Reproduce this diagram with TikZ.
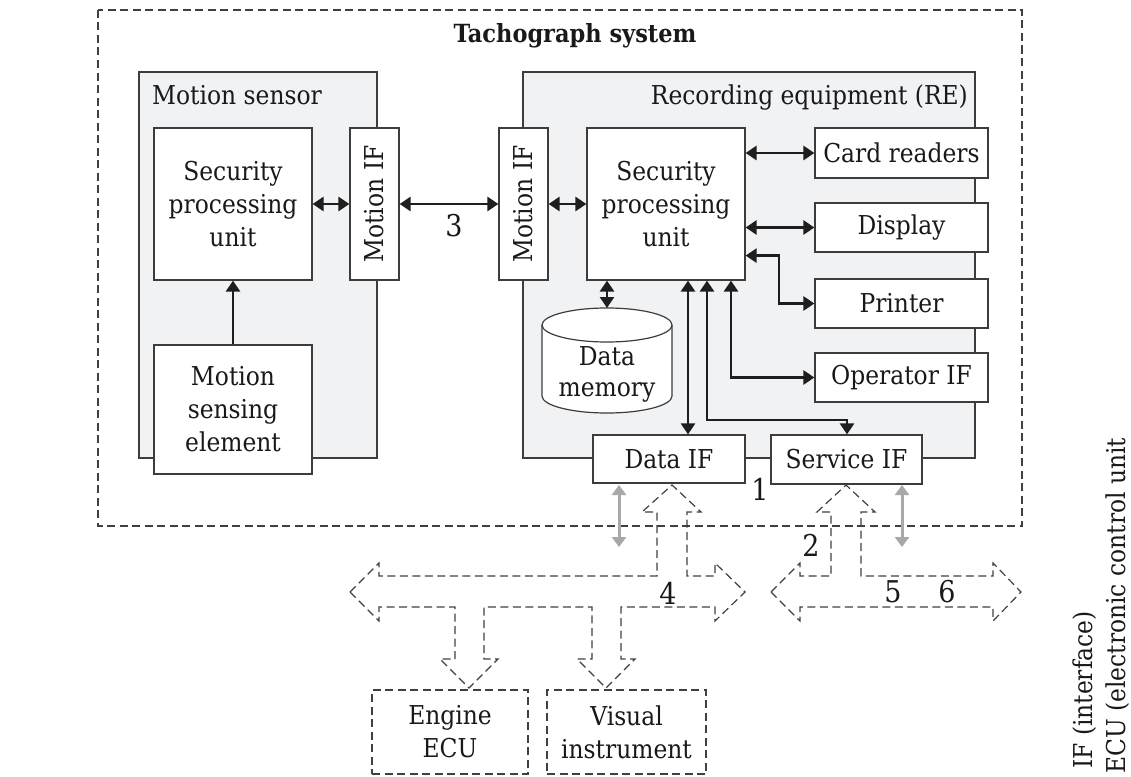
\documentclass[tikz,border=0pt]{standalone}
\usepackage{fontspec}
\setmainfont{DejaVu Serif Condensed}
\usetikzlibrary{arrows.meta,calc}
\definecolor{boxline}{HTML}{3C3C3C}
\definecolor{panel}{HTML}{F1F2F4}
\definecolor{arr}{HTML}{1E1E1E}
\definecolor{garr}{HTML}{A8A8A8}
\definecolor{dashline}{HTML}{404040}
\begin{document}
\begin{tikzpicture}[x=1pt,y=-1pt,
  every node/.style={font=\fontsize{26}{33}\selectfont, text=black!90},
  box/.style={draw=boxline, line width=1.2pt, fill=white, align=center, inner sep=0pt},
  panelbox/.style={draw=boxline, line width=1.2pt, fill=panel},
  dbox/.style={draw=dashline, line width=1.2pt, dash pattern=on 8pt off 4.5pt, align=center, inner sep=0pt},
  dline/.style={draw=dashline, line width=1.2pt, dash pattern=on 8pt off 4.5pt, line join=miter},
  conn/.style={draw=arr, line width=2.6pt, {Triangle[length=11pt,width=14pt]}-{Triangle[length=11pt,width=14pt]}},
  conn1/.style={draw=arr, line width=2.6pt, -{Triangle[length=11pt,width=14pt]}},
  gconn/.style={draw=garr, line width=3pt, {Triangle[length=10pt,width=14pt]}-{Triangle[length=10pt,width=14pt]}},
  lbl/.style={inner sep=0pt},
  num/.style={inner sep=0pt, font=\fontsize{30}{33}\selectfont}
]
\useasboundingbox (0,0) rectangle (1131,776);

% outer system boundary
\draw[dline] (98,10) rectangle (1022,526);
\node[lbl, anchor=base, font=\fontsize{25}{30}\selectfont\bfseries] (title) at (575,42) {Tachograph system};

% panels
\draw[panelbox] (139,72) rectangle (377,458);
\node[lbl, anchor=base west] (mslbl) at (152,104) {Motion sensor};
\draw[panelbox] (523,72) rectangle (975,458);
\node[lbl, anchor=base east] (relbl) at (968,104) {Recording equipment (RE)};

% motion sensor contents
\node[box, minimum width=158, minimum height=152] (spu1) at (233,204) {Security\\processing\\unit};
\node[box, minimum width=49, minimum height=152] (mif1) at (374.5,204) {};
\node[lbl, rotate=90] at (mif1.center) {Motion IF};
\node[box, minimum width=158, minimum height=129] (mse) at (233,409.5) {Motion\\sensing\\element};

% recording equipment contents
\node[box, minimum width=49, minimum height=152] (mif2) at (523.5,204) {};
\node[lbl, rotate=90] at (mif2.center) {Motion IF};
\node[box, minimum width=158, minimum height=152] (spu2) at (666,204) {Security\\processing\\unit};
\node[box, minimum width=173, minimum height=50] (card) at (901.5,153) {Card readers};
\node[box, minimum width=173, minimum height=49] (disp) at (901.5,227.5) {Display};
\node[box, minimum width=173, minimum height=49] (prn) at (901.5,303.5) {Printer};
\node[box, minimum width=173, minimum height=49] (opif) at (901.5,377.5) {Operator IF};
\node[box, minimum width=152, minimum height=48] (dataif) at (669,459) {Data IF};
\node[box, minimum width=151, minimum height=49] (servif) at (846.5,459.5) {Service IF};

% data memory cylinder
\coordinate (memtop) at (607,308);
\draw[draw=boxline, line width=1.2pt, fill=white]
  (542,325) arc[start angle=180, end angle=360, x radius=65, y radius=17]
  -- (672,396) arc[start angle=0, end angle=180, x radius=65, y radius=17] -- cycle;
\draw[draw=boxline, line width=1.2pt] (542,325) arc[start angle=180, end angle=0, x radius=65, y radius=17];
\node[lbl, align=center, font=\fontsize{26}{31}\selectfont] (mem) at (607,374) {Data\\memory};

% connectors
\draw[conn1] (mse.north) -- (spu1.south);
\draw[conn] (spu1.east) -- (mif1.west);
\draw[conn] (mif1.east) -- (mif2.west);
\node[num] (n3) at (454,226) {3};
\draw[conn] (mif2.east) -- (spu2.west);
\draw[conn] (spu2.east |- card.west) -- (card.west);
\draw[conn] (spu2.east |- disp.west) -- (disp.west);
\draw[conn] ([yshift=25]spu2.south east) -| (779,303.5) -- (prn.west);
\draw[conn] ([xshift=65]spu2.south) |- (opif.west);
\draw[conn] ([xshift=-59]spu2.south) -- (memtop);
\draw[conn] ([xshift=22]spu2.south) -- ([xshift=19]dataif.north);
\draw[conn] ([xshift=41]spu2.south) |- (847,420) -- ([xshift=0.5]servif.north);
\node[num] (n1) at (760,489) {1};

% grey external arrows
\coordinate (g1a) at (619,485); \coordinate (g1b) at (619,547);
\coordinate (g2a) at (902,485); \coordinate (g2b) at (902,547);
\draw[gconn] (g1a) -- (g1b);
\draw[gconn] (g2a) -- (g2b);

% bus 4 with hollow arrows
\draw[dline] (350,592) -- (379,563) -- (379,576) -- (657,576) -- (657,512) -- (642,512) -- (672,485)
  -- (701,512) -- (687,512) -- (687,576) -- (715,576) -- (715,563) -- (745,592) -- (715,621)
  -- (715,607) -- (621,607) -- (621,659) -- (635,659) -- (606,688) -- (577,659) -- (592,659)
  -- (592,607) -- (484,607) -- (484,659) -- (498,659) -- (469,688) -- (440,659) -- (455,659)
  -- (455,607) -- (379,607) -- (379,621) -- cycle;
\node[num] (n4) at (668,593) {4};

% bus 5/6 with hollow arrow
\draw[dline] (771,592) -- (800,563) -- (800,576) -- (831,576) -- (831,512) -- (817,512) -- (846,485)
  -- (875,512) -- (861,512) -- (861,576) -- (993,576) -- (993,563) -- (1021,592) -- (993,621)
  -- (993,607) -- (800,607) -- (800,621) -- cycle;
\node[num] (n2) at (811,545) {2};
\node[num] (n5) at (893,592) {5};
\node[num] (n6) at (947,592) {6};

% external units
\node[dbox, minimum width=156, minimum height=84] (engine) at (450,732) {Engine\\ECU};
\node[dbox, minimum width=159, minimum height=84] (visual) at (626.5,732) {Visual\\instrument};

% legend
\node[lbl, rotate=90, anchor=base west] (leg1) at (1092,769) {IF (interface)};
\node[lbl, rotate=90, anchor=base west] (leg2) at (1125,774) {ECU (electronic control unit};
\end{tikzpicture}
\end{document}
